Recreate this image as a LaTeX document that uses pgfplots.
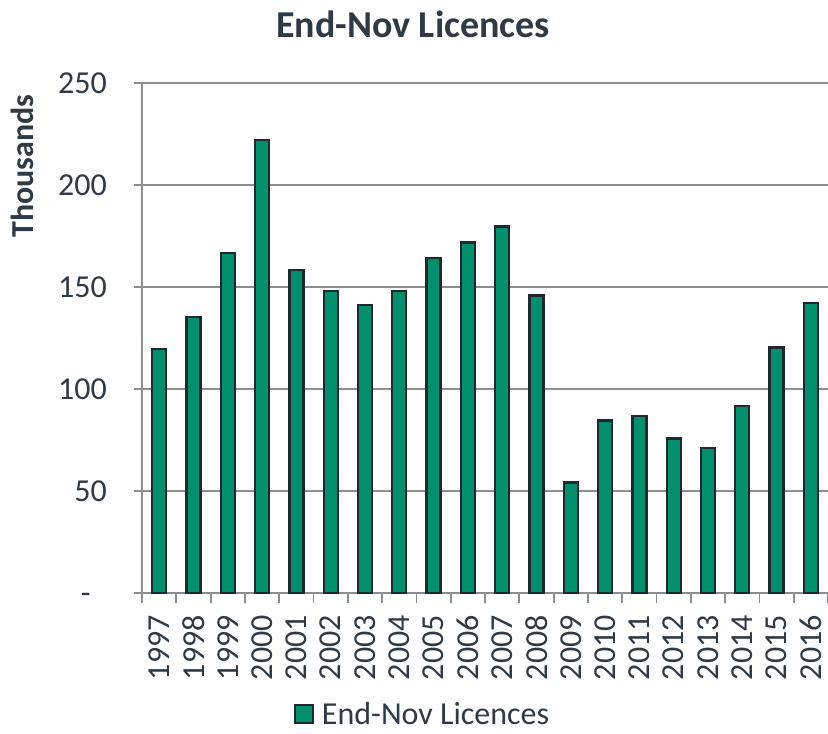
\documentclass[border=0pt]{standalone}
\usepackage{pgfplots}
\pgfplotsset{compat=1.18}
\usepackage{fontspec}
\setmainfont{Carlito}
\definecolor{barfill}{RGB}{3,142,110}
\definecolor{baredge}{RGB}{30,40,46}
\definecolor{txt}{RGB}{48,58,68}
\definecolor{gridc}{RGB}{140,143,145}
\pgfplotstableread{
x year val
0 1997 119.5
1 1998 135.3
2 1999 166.5
3 2000 221.9
4 2001 158.5
5 2002 147.9
6 2003 141.2
7 2004 147.9
8 2005 164.2
9 2006 171.8
10 2007 179.6
11 2008 145.9
12 2009 54.2
13 2010 84.6
14 2011 86.6
15 2012 75.8
16 2013 71.1
17 2014 91.7
18 2015 120.4
19 2016 142.2
}\datatable
\begin{document}
\begin{tikzpicture}
\useasboundingbox (0,0) rectangle (828bp,734bp);
\node[anchor=base, text=txt, font=\fontsize{38bp}{44bp}\selectfont\bfseries] at (413bp,696bp) {End-Nov Licences};
\node[rotate=90, text=txt, font=\fontsize{32bp}{38bp}\selectfont\bfseries] at (22bp,568bp) {Thousands};
\begin{axis}[
  at={(142bp,141bp)}, anchor=south west,
  scale only axis, width=686bp, height=510bp,
  ybar, bar width=14bp,
  xmin=-0.5, xmax=19.5, ymin=0, ymax=250,
  axis x line*=bottom, axis y line*=left,
  axis line style={gridc, line width=1.8bp, -},
  xtick={0,...,19},
  xticklabels={1997,1998,1999,2000,2001,2002,2003,2004,2005,2006,2007,2008,2009,2010,2011,2012,2013,2014,2015,2016},
  major x tick style={draw=none},
  minor xtick={-0.5,0.5,...,19.5},
  minor x tick style={gridc, line width=1.8bp},
  minor tick length=10bp,
  ytick={0,50,100,150,200,250},
  yticklabels={-\phantom{0},50,100,150,200,250},
  major y tick style={gridc, line width=1.8bp},
  major tick length=8bp,
  tick align=outside,
  ymajorgrids,
  major grid style={gridc, line width=1.8bp},
  /pgf/number format/assume math mode=true,
  ticklabel style={text=txt, font=\fontsize{32bp}{38bp}\selectfont},
  xticklabel style={rotate=90, anchor=east, inner sep=0pt, xshift=-14bp},
  yticklabel style={anchor=east, inner sep=0pt, xshift=-27bp},
  legend style={at={(0.409,-0.238)}, anchor=center, draw=none, fill=none,
    font=\fontsize{32bp}{38bp}\selectfont, text=txt,
    /tikz/every odd column/.append style={column sep=6bp}},
  legend image code/.code={\draw[#1, line width=2bp] (0bp,-9bp) rectangle (18bp,9bp);},
  clip=false,
]
\addplot[fill=barfill, draw=baredge, line width=2.3bp] table[x=x, y=val] {\datatable};
\addlegendentry{End-Nov Licences}
\end{axis}
\end{tikzpicture}
\end{document}
